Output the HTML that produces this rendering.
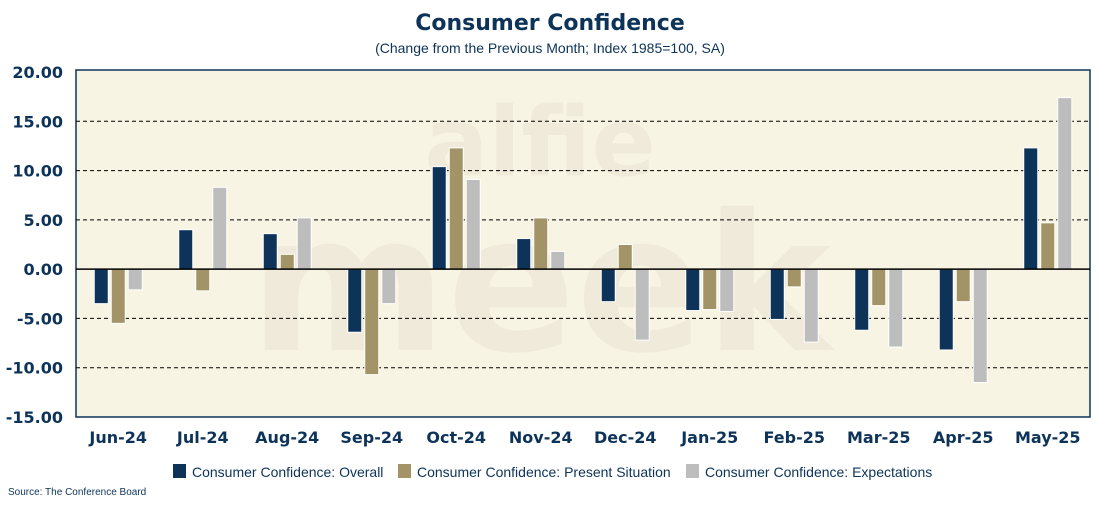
<!DOCTYPE html>
<html><head><meta charset="utf-8"><style>
body{margin:0;background:#fff;font-family:"Liberation Sans",Verdana,sans-serif;}
svg text{font-family:"DejaVu Sans","Liberation Sans",sans-serif;}
svg .lib{font-family:"Liberation Sans",sans-serif;}
</style></head><body>
<svg id="c" width="1100" height="500" xmlns="http://www.w3.org/2000/svg">
<text x="550" y="30" text-anchor="middle" font-size="22" font-weight="bold" fill="#0d3358">Consumer Confidence</text>
<text x="550" y="53" text-anchor="middle" font-size="14" fill="#0d3358" class="lib">(Change from the Previous Month; Index 1985=100, SA)</text>
<rect x="76" y="70" width="1014" height="347" fill="#f8f4e3" stroke="#0d3358" stroke-width="1.5"/>
<g id="wm" opacity="0.3">
<text x="540" y="175" text-anchor="middle" font-size="95" font-weight="bold" fill="#ddd6c3">alfie</text>
<text x="540" y="350" text-anchor="middle" font-size="190" font-weight="bold" fill="#ddd6c3">meek</text>
</g>
<g id="grid"></g><g id="bars"></g><g id="axes"></g>
<g font-size="14" fill="#0d3358" class="lib">
<rect x="173" y="464" width="13" height="14" fill="#0d3358"/>
<text class="lib" x="192" y="477">Consumer Confidence: Overall</text>
<rect x="398" y="464" width="13" height="14" fill="#a39467"/>
<text class="lib" x="417" y="477">Consumer Confidence: Present Situation</text>
<rect x="686" y="464" width="13" height="14" fill="#bdbdbd"/>
<text class="lib" x="705" y="477">Consumer Confidence: Expectations</text>
</g>
<text class="lib" x="8" y="495" font-size="10" fill="#0d3358">Source: The Conference Board</text>
</svg>
<script>
const categories=["Jun-24","Jul-24","Aug-24","Sep-24","Oct-24","Nov-24","Dec-24","Jan-25","Feb-25","Mar-25","Apr-25","May-25"];
const overall=[-3.5,4.0,3.6,-6.4,10.4,3.1,-3.3,-4.2,-5.1,-6.2,-8.2,12.3];
const present=[-5.5,-2.2,1.5,-10.7,12.3,5.2,2.5,-4.1,-1.8,-3.7,-3.3,4.7];
const expectations=[-2.1,8.3,5.2,-3.5,9.1,1.8,-7.2,-4.3,-7.4,-7.9,-11.5,17.4];
const ticks=[20,15,10,5,0,-5,-10,-15];
const NS="http://www.w3.org/2000/svg";
const X0=76,X1=1090,Y0=72,Y1=417,vmax=20,vmin=-15;
const y=v=>Y0+(vmax-v)/(vmax-vmin)*(Y1-Y0);
const bw=(X1-X0)/categories.length;
const xc=i=>X0+bw*(i+0.5);
function mk(t,a,p){const e=document.createElementNS(NS,t);for(const k in a)e.setAttribute(k,a[k]);p.appendChild(e);return e;}
const grid=document.getElementById('grid'),bars=document.getElementById('bars'),axes=document.getElementById('axes');
ticks.forEach(t=>{
 if(t!==20&&t!==-15&&t!==0){const l=mk('line',{x1:X0,x2:X1,y1:y(t),y2:y(t),stroke:'#000','stroke-dasharray':'4 3','stroke-width':1},grid);
 
 }
 const tx=mk('text',{x:63,y:y(t)+6,'text-anchor':'end','font-size':16,'font-weight':'bold',fill:'#0d3358'},axes);
 tx.textContent=t.toFixed(2);
 
 
});
const series=[[overall,'#0d3358','overall'],[present,'#a39467','present'],[expectations,'#bdbdbd','expectations']];
categories.forEach((c,i)=>{
 series.forEach((s,j)=>{
  const v=s[0][i];const x=xc(i)+(j-1)*17-7;
  const r=mk('rect',{x:x,y:Math.min(y(v),y(0)),width:14,height:Math.abs(y(v)-y(0)),fill:s[1],stroke:'#fff','stroke-width':1},bars);
  
  
 });
 const tx=mk('text',{x:xc(i),y:443,'text-anchor':'middle','font-size':16,'font-weight':'bold',fill:'#0d3358'},axes);
 tx.textContent=c;
 
 
});
const z=mk('line',{x1:X0,x2:X1,y1:y(0),y2:y(0),stroke:'#000','stroke-width':1.5},axes);


</script>
</body></html>
